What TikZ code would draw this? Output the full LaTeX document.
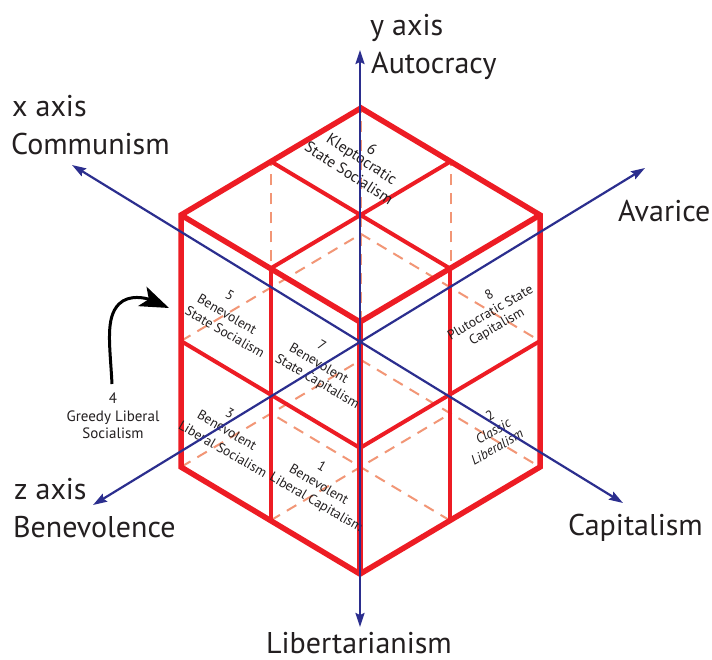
\documentclass[tikz,border=0pt]{standalone}
\usepackage{fontspec}
\setmainfont{PT Sans}
\usetikzlibrary{arrows.meta}
\definecolor{cubered}{RGB}{237,28,36}
\definecolor{axisblue}{RGB}{43,46,142}
\definecolor{hiddencol}{RGB}{242,150,118}
\definecolor{textgray}{RGB}{35,31,32}
\begin{document}
\begin{tikzpicture}[x=1pt,y=-1pt,
  redouter/.style={draw=cubered, line width=5.5pt, line join=miter},
  redinner/.style={draw=cubered, line width=4pt},
  hiddenline/.style={draw=hiddencol, line width=2pt, dash pattern=on 11pt off 8pt},
  axisline/.style={draw=axisblue, line width=2.2pt, {Stealth[length=14pt,width=9pt,inset=2pt]}-{Stealth[length=14pt,width=9pt,inset=2pt]}},
  biglabel/.style={font=\fontsize{30}{38}\selectfont, text=textgray, inner sep=0pt, anchor=base west},
  facetext/.style={font=\fontsize{13.6}{16.5}\selectfont, text=textgray, inner sep=0pt},
  toptext/.style={font=\fontsize{15.5}{18}\selectfont, text=textgray, inner sep=0pt, rotate=-33},
  lefttext/.style={facetext, rotate=-30},
  righttext/.style={facetext, rotate=30},
  curvearrow/.style={draw=black, line width=3pt, -{Stealth[length=29pt,width=21pt,inset=7pt]}}
]
\useasboundingbox (0,0) rectangle (712,660);
\fill[white] (0,0) rectangle (712,660);
% 3D grid points p<u><v><h>
\foreach \u in {0,1,2}{
  \foreach \v in {0,1,2}{
    \foreach \h in {0,1,2}{
      \coordinate (p\u\v\h) at ({360-89.5*\u+90*\v},{574-53.5*\u-53.5*\v-126*\h});
    }
  }
}
% hidden (dashed) edges
\draw[hiddenline] (p220) -- (p222);
\draw[hiddenline] (p200) -- (p220) -- (p020);
\draw[hiddenline] (p210) -- (p212);
\draw[hiddenline] (p120) -- (p122);
\draw[hiddenline] (p201) -- (p221) -- (p021);
\draw[hiddenline] (p100) -- (p120);
\draw[hiddenline] (p010) -- (p210);
% visible red edges
\draw[redinner] (p102) -- (p122);
\draw[redinner] (p012) -- (p212);
\draw[redinner] (p100) -- (p102);
\draw[redinner] (p001) -- (p201);
\draw[redinner] (p010) -- (p012);
\draw[redinner] (p001) -- (p021);
\draw[redouter] (p202) -- (p002) -- (p022);
\draw[redouter] (p002) -- (p000);
\draw[redouter] (p222) -- (p202) -- (p200) -- (p000) -- (p020) -- (p022) -- cycle;
% face labels
\node[toptext] (l6a) at (372,149) {6};
\node[toptext] (l6b) at (361,160) {Kleptocratic};
\node[toptext] (l6c) at (349,173) {State Socialism};
\node[lefttext] (l5a) at (230,295) {5};
\node[lefttext] (l5b) at (227,314) {Benevolent};
\node[lefttext] (l5c) at (225,332) {State Socialism};
\node[lefttext] (l7a) at (322,345) {7};
\node[lefttext] (l7b) at (319,363) {Benevolent};
\node[lefttext] (l7c) at (317,382) {State Capitalism};
\node[lefttext] (l3a) at (230,413) {3};
\node[lefttext] (l3b) at (227,430) {Benevolent};
\node[lefttext] (l3c) at (223,449) {Liberal Socialism};
\node[lefttext] (l1a) at (322,466) {1};
\node[lefttext] (l1b) at (319,484) {Benevolent};
\node[lefttext] (l1c) at (316,503) {Liberal Capitalism};
\node[righttext] (l8a) at (489,295) {8};
\node[righttext] (l8b) at (490,312) {Plutocratic State};
\node[righttext] (l8c) at (497,327) {Capitalism};
\node[righttext] (l2a) at (490,415) {2};
\node[righttext, font=\fontsize{13.6}{16.5}\selectfont\itshape] (l2b) at (493,431) {Classic};
\node[righttext, font=\fontsize{13.6}{16.5}\selectfont\itshape] (l2c) at (497,447) {Liberalism};
% axes
\coordinate (ytop) at (360,50);
\coordinate (ybot) at (360,627);
\coordinate (xtop) at (72,165);
\coordinate (xbot) at (623,503);
\coordinate (ztop) at (645,168);
\coordinate (zbot) at (93,505);
\draw[axisline] (ybot) -- (ytop);
\draw[axisline] (xbot) -- (xtop);
\draw[axisline] (zbot) -- (ztop);
% axis labels
\node[biglabel] (ylab) at (370,36) {y axis};
\node[biglabel] (ydesc) at (371,74) {Autocracy};
\node[biglabel] (xlab) at (12,117) {x axis};
\node[biglabel] (xdesc) at (11,155) {Communism};
\node[biglabel] (avar) at (618,222) {Avarice};
\node[biglabel] (zlab) at (14,499) {z axis};
\node[biglabel] (zdesc) at (13,537) {Benevolence};
\node[biglabel] (capi) at (568,535) {Capitalism};
\node[biglabel, anchor=base] (libe) at (359,653) {Libertarianism};
% label 4 with curved arrow
\node[facetext, align=center, font=\fontsize{15}{17.5}\selectfont] (l4) at (113,416) {4\\Greedy Liberal\\Socialism};
\coordinate (a4start) at (112,384);
\coordinate (a4mid) at (119,304);
\coordinate (a4tip) at (169,308);
\draw[curvearrow] (a4start) .. controls (110,345) and (105,318) .. (a4mid) .. controls (129,294) and (146,298) .. (a4tip);
\end{tikzpicture}
\end{document}
